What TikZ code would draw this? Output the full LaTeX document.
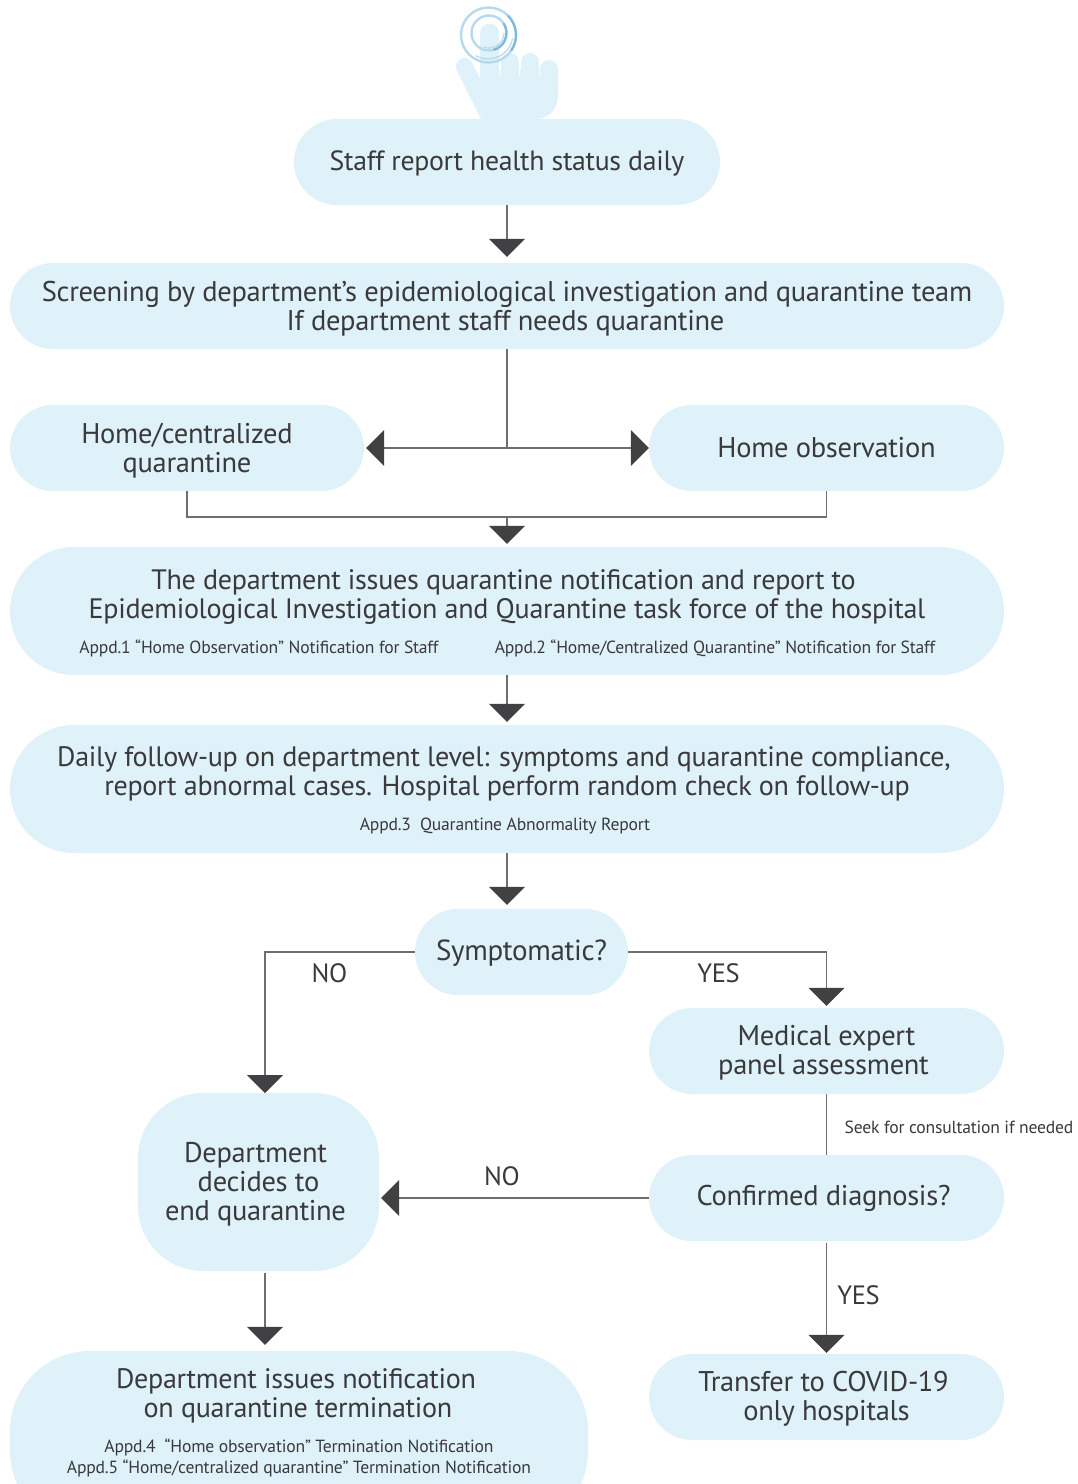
\documentclass[tikz,border=0pt]{standalone}
\usepackage{fontspec}
\setmainfont[LetterSpace=-1.1]{PT Sans}
\usetikzlibrary{calc}
\usetikzlibrary{arrows.meta}
\definecolor{boxblue}{HTML}{DFF1F9}
\definecolor{linegray}{HTML}{6D6E71}
\definecolor{tipdark}{HTML}{414042}
\definecolor{inkdark}{HTML}{3A3A3C}
\definecolor{ringpale}{HTML}{B5DAEE}
\definecolor{ringdeep}{HTML}{7DB9DC}
\newcommand{\dropline}{\rule{0pt}{26pt}}
\newcommand{\dropless}{\rule{0pt}{24pt}}
\tikzset{
  pill/.style={fill=boxblue, rounded corners=#1, inner sep=0pt, align=center, text=inkdark,
    font=\fontsize{28.5}{29}\selectfont},
  pill/.default=43pt,
  link/.style={draw=linegray, line width=1.1pt},
  tiplink/.style={link, -{Triangle[length=18pt,width=36pt,color=tipdark]}},
  caption/.style={text=inkdark, inner sep=0pt, align=center, font=\fontsize{28.1}{29}\selectfont},
  appd/.style={text=inkdark, inner sep=0pt, align=center, font=\fontsize{17.6}{21.5}\selectfont},
  answer/.style={text=inkdark, inner sep=0pt, font=\fontsize{26.5}{29}\selectfont},
  finger/.style={draw=boxblue, line cap=round}
}
\begin{document}
\begin{tikzpicture}[x=1pt,y=-1pt]
  \useasboundingbox (0,0) rectangle (1077,1484);

  % hand
  \fill[boxblue] (456.5,69) -- (481,119) -- (535,119) .. controls (550,119) and (558,108) .. (558,95)
    -- (558,70) -- (480,70) -- (480,82) -- (472,66) -- cycle;
  \draw[finger, line width=17pt] (464.5,66.5) -- (481,100);
  \draw[finger, line width=19pt] (489.5,33) -- (489.5,95);
  \draw[finger, line width=18pt] (510,62) -- (510,95);
  \draw[finger, line width=18pt] (530,62) -- (530,95);
  \draw[finger, line width=18pt] (549,69) -- (549,95);
  \draw[white, line width=1.2pt] (499.5,62) -- (499.5,76);
  \draw[white, line width=1.2pt] (519.5,62) -- (519.5,76);
  \draw[white, line width=1.2pt] (539.5,66) -- (539.5,76);
  % rings
  \draw[ringpale, line width=2.4pt] (488.5,35) circle (27.5);
  \draw[ringpale, line width=2.4pt] (489,33) circle (17.5);
  \draw[ringdeep, line width=2.2pt] (488.5,35) ++(-45:27.5) arc (-45:35:27.5);
  \draw[ringdeep, line width=2.2pt] (489,33) ++(-35:17.5) arc (-35:75:17.5);
  \draw[ringpale, line width=1.2pt] (488,34) ++(10:25) arc (10:120:25);
  \draw[ringpale, line width=1.2pt] (489,33) ++(0:15) arc (0:110:15);

  % boxes
  \node[pill, font=\fontsize{27.8}{29}\selectfont, minimum width=426pt, minimum height=86pt] (staff) at (507,162) {\rule{0pt}{23pt}Staff report health status daily};
  \node[pill, minimum width=994pt, minimum height=86pt] (screen) at (507,306)
    {\dropline Screening by department’s epidemiological investigation and quarantine team\\If department staff needs quarantine\hspace*{3pt}};
  \node[pill, minimum width=354pt, minimum height=86pt] (central) at (187,448) {\dropline Home/centralized\\quarantine};
  \node[pill, minimum width=355pt, minimum height=86pt] (observe) at (826.5,448) {Home observation};
  \node[pill=64pt, minimum width=994pt, minimum height=128pt] (issue) at (507,611) {};
  \node[pill=64pt, minimum width=994pt, minimum height=128pt] (daily) at (507,789) {};
  \node[pill, font=\fontsize{29}{29}\selectfont, minimum width=213pt, minimum height=86pt] (symptom) at (521.5,952) {\rule{0pt}{23pt}Symptomatic?};
  \node[pill, minimum width=355pt, minimum height=86pt] (panel) at (826.5,1051) {\dropless Medical expert\\panel assessment\hspace*{6pt}};
  \node[pill, minimum width=355pt, minimum height=86pt] (confirm) at (826.5,1198) {Confirmed diagnosis?\hspace*{6pt}};
  \node[pill, minimum width=355pt, minimum height=86pt] (transfer) at (826.5,1397) {\rule{0pt}{23pt}Transfer to COVID-19\hspace*{6pt}\\only hospitals};
  \node[pill=65pt, minimum width=241pt, minimum height=178pt] (decide) at (258.5,1182) {\dropless Department\hspace*{6pt}\\decides to\hspace*{6pt}\\end quarantine\hspace*{6pt}};
  \node[pill=80pt, minimum width=578pt, minimum height=180pt] (finish) at (299,1441) {};

  % texts on the big boxes
  \node[caption] (issuetext) at (507,597) {The department issues quarantine notification and report to\hspace*{7pt}\\Epidemiological Investigation and Quarantine task force of the hospital};
  \node[appd] (appdone) at (259,648) {Appd.1 “Home Observation” Notification for Staff};
  \node[appd] (appdtwo) at (715,648) {Appd.2 “Home/Centralized Quarantine” Notification for Staff};
  \node[caption] (dailytext) at (504,774) {Daily follow-up on department level: symptoms and quarantine compliance,\\\hspace*{6pt}report abnormal cases. Hospital perform random check on follow-up};
  \node[appd] (appdthree) at (505,826.5) {Appd.3\ \ Quarantine Abnormality Report};
  \node[caption] (finishtext) at (296,1396) {Department issues notification\\\hspace*{4pt}on quarantine termination};
  \node[appd] (appdfour) at (299,1458) {Appd.4\ \ “Home observation” Termination Notification\\Appd.5 “Home/centralized quarantine” Termination Notification};

  % helper points
  \coordinate (split) at (507,448);
  \coordinate (merge) at (507,517);
  \coordinate (nobend) at (265,1093);
  \coordinate (nostart) at (265,1273);

  % connectors
  \draw[tiplink, shorten >=6pt] (staff) -- (screen);
  \draw[link] (screen) -- (split);
  \draw[tiplink, shorten >=2pt] (split) -- (central.east);
  \draw[tiplink] (split) -- (observe.west);
  \draw[link] (central.south) |- (merge) -| (observe.south);
  \draw[tiplink, shorten >=3pt] (merge) -- (issue.north -| merge);
  \draw[tiplink, shorten >=3pt] (issue) -- (daily);
  \draw[tiplink, shorten >=4pt] (daily.south -| split) -- (symptom.north -| split);
  \draw[tiplink] (symptom.west) -| (nobend);
  \draw[tiplink, shorten >=2pt] (symptom.east) -| (panel.north);
  \draw[link] (panel.south) -- (confirm.north);
  \draw[tiplink, shorten >=2pt] (confirm.west) -- (decide.east |- confirm.west);
  \draw[tiplink, shorten >=1pt] ([yshift=-2pt]confirm.south) -- (transfer.north);
  \draw[tiplink, shorten >=6pt] (nostart) -- (finish.north -| nostart);

  % answers
  \node[answer] (noleft) at (329.5,973) {NO};
  \node[answer] (yesright) at (718.5,973) {YES};
  \node[answer] (nomiddle) at (502,1176) {NO};
  \node[answer] (yesbottom) at (858.5,1295) {YES};
  \node[appd] (seek) at (959,1127) {Seek for consultation if needed};
\end{tikzpicture}
\end{document}
